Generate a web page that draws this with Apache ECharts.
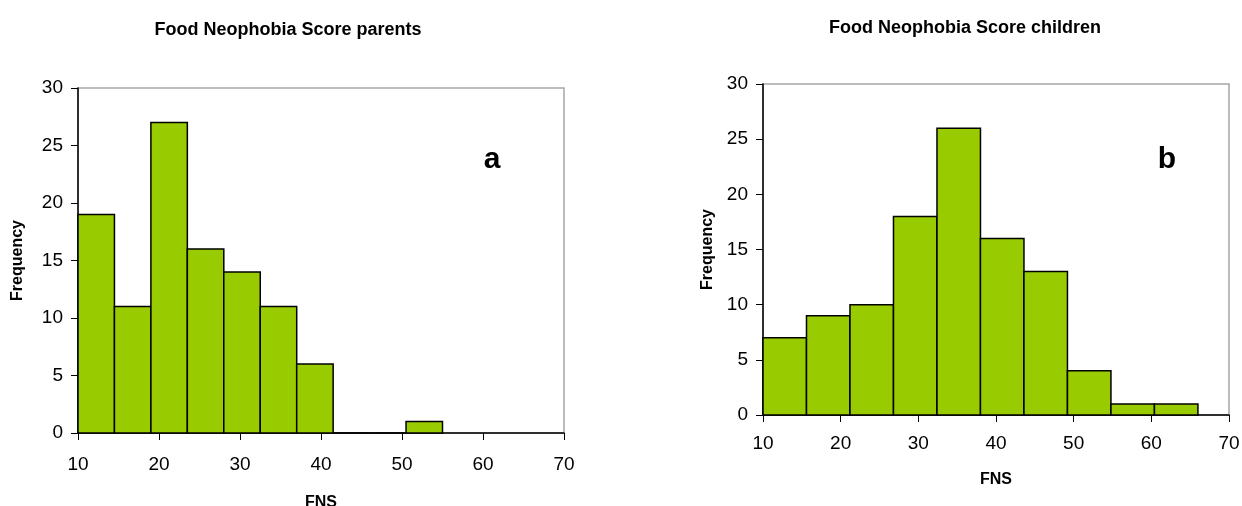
<!DOCTYPE html>
<html>
<head>
<meta charset="utf-8">
<script src="https://cdn.jsdelivr.net/npm/echarts@6/dist/echarts.min.js"></script>
<style>
  html, body { margin: 0; padding: 0; background: #fff; }
  #chart { width: 1242px; height: 506px; }
</style>
</head>
<body>
<div id="chart"></div>
<script>
// bin edges and counts
const parentEdges = [10, 14.5, 19, 23.5, 28, 32.5, 37, 41.5, 46, 50.5, 55]
const parentCounts = [19, 11, 27, 16, 14, 11, 6, 0, 0, 1]
const childEdges = [10, 15.6, 21.2, 26.8, 32.4, 38, 43.6, 49.2, 54.8, 60.4, 66]
const childCounts = [7, 9, 10, 18, 26, 16, 13, 4, 1, 1]
const xTicks = [10, 20, 30, 40, 50, 60, 70]
const yTicks = [0, 5, 10, 15, 20, 25, 30]

const barFill = '#99cc00'
const font = 'Arial, "Liberation Sans", sans-serif'

function binData(edges, counts) {
  return counts.map((c, i) => [edges[i], edges[i + 1], c])
}

// histogram bars drawn through the axis scales
function renderBin(params, api) {
  const p0 = api.coord([api.value(0), api.value(2)])
  const p1 = api.coord([api.value(1), 0])
  return {
    type: 'rect',
    shape: { x: p0[0], y: p0[1], width: p1[0] - p0[0], height: p1[1] - p0[1] },
    style: { fill: barFill, stroke: '#000', lineWidth: 1.5 }
  }
}

function xAxis(gridIndex, nameGap, labelMargin) {
  return {
    type: 'value', gridIndex: gridIndex,
    min: xTicks[0], max: xTicks[xTicks.length - 1], interval: 10,
    name: 'FNS', nameLocation: 'middle', nameGap: nameGap,
    nameTextStyle: { fontFamily: font, fontWeight: 'bold', fontSize: 16, color: '#000' },
    axisLine: { show: true, lineStyle: { color: '#000', width: 1.5 } },
    axisTick: { show: true, length: 7, lineStyle: { color: '#000' } },
    axisLabel: { fontFamily: font, fontSize: 19, color: '#000', margin: labelMargin },
    splitLine: { show: false }
  }
}

function yAxis(gridIndex, nameGap) {
  return {
    type: 'value', gridIndex: gridIndex,
    min: yTicks[0], max: yTicks[yTicks.length - 1], interval: 5,
    name: 'Frequency', nameLocation: 'middle', nameGap: nameGap,
    nameTextStyle: { fontFamily: font, fontWeight: 'bold', fontSize: 16, color: '#000' },
    axisLine: { show: true, lineStyle: { color: '#000', width: 1.5 } },
    axisTick: { show: true, length: 7, lineStyle: { color: '#000' } },
    axisLabel: { fontFamily: font, fontSize: 19, color: '#000', margin: 15 },
    splitLine: { show: false }
  }
}

const myChart = echarts.init(document.getElementById('chart'))
myChart.setOption({
  animation: false,
  title: [
    { text: 'Food Neophobia Score parents', left: 283, top: 16, textAlign: 'center',
      textStyle: { fontFamily: font, fontWeight: 'bold', fontSize: 18, color: '#000' } },
    { text: 'Food Neophobia Score children', left: 960, top: 14, textAlign: 'center',
      textStyle: { fontFamily: font, fontWeight: 'bold', fontSize: 18, color: '#000' } },
    { text: 'a', left: 487, top: 140, textAlign: 'center',
      textStyle: { fontFamily: font, fontWeight: 'bold', fontSize: 30, color: '#000' } },
    { text: 'b', left: 1162, top: 140, textAlign: 'center',
      textStyle: { fontFamily: font, fontWeight: 'bold', fontSize: 30, color: '#000' } }
  ],
  grid: [
    { left: 78, top: 88, width: 486, height: 345, show: true, borderColor: '#a6a6a6', borderWidth: 1.5,
      outerBoundsMode: 'none' },
    { left: 763, top: 84, width: 466, height: 331, show: true, borderColor: '#a6a6a6', borderWidth: 1.5,
      outerBoundsMode: 'none' }
  ],
  xAxis: [xAxis(0, 62, 22), xAxis(1, 57, 19)],
  yAxis: [yAxis(0, 52), yAxis(1, 47)],
  series: [
    { type: 'custom', xAxisIndex: 0, yAxisIndex: 0, renderItem: renderBin,
      data: binData(parentEdges, parentCounts) },
    { type: 'custom', xAxisIndex: 1, yAxisIndex: 1, renderItem: renderBin,
      data: binData(childEdges, childCounts) }
  ]
})
</script>
</body>
</html>
